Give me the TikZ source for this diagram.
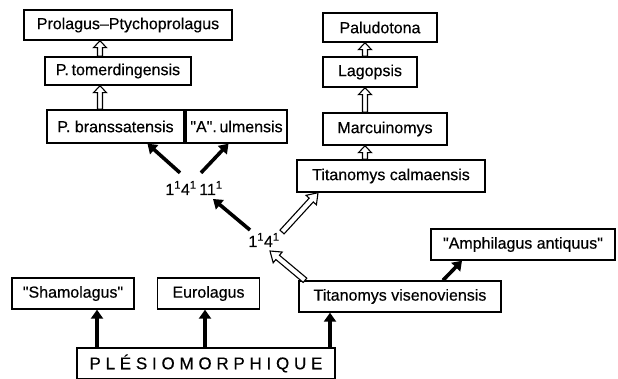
\documentclass[tikz,border=0pt]{standalone}
\usepackage{fontspec}
\setmainfont{Liberation Sans}[FakeBold=0.4]
\usetikzlibrary{calc,arrows.meta}
\tikzset{
  box/.style={draw, line width=1.4pt, inner sep=0pt, font=\fontsize{16}{18}\selectfont\addfontfeature{FakeBold=0.4}},
  lbl/.style={inner sep=0pt, font=\fontsize{16}{18}\selectfont\addfontfeature{FakeBold=0.4}},
  blackarr/.style={line width=3.6pt, -{Triangle[length=9pt,width=12pt]}},
  hollowarr/.style={draw, fill=white, line width=1.1pt, line join=miter}
}
% #1 start, #2 end, #3 shaft half width, #4 head half width, #5 head length
\newcommand{\harrow}[5]{%
  \path[hollowarr] let \p1=#1, \p2=#2, \n1={atan2(\y2-\y1,\x2-\x1)},
    \n2={\n1+90}, \n3={\n1-90}, \n4={\n1+180} in
    ($(\p1)+(\n2:#3)$) -- ($(\p2)+(\n4:#5)+(\n2:#3)$) -- ($(\p2)+(\n4:#5)+(\n2:#4)$)
    -- (\p2) -- ($(\p2)+(\n4:#5)+(\n3:#4)$) -- ($(\p2)+(\n4:#5)+(\n3:#3)$)
    -- ($(\p1)+(\n3:#3)$) -- cycle;}
\begin{document}
\begin{tikzpicture}[x=1pt,y=-1pt]
\useasboundingbox (0,0) rectangle (618,379);
% left column
\node[box, minimum width=208pt, minimum height=30pt] (prol) at (128,25) {Prolagus–Ptychoprolagus};
\node[box, minimum width=146pt, minimum height=28pt] (tom) at (118,71) {P.\,tomerdingensis};
\node[box, minimum width=137pt, minimum height=33pt] (bran) at (115.5,126.5) {P. branssatensis};
\node[box, minimum width=101pt, minimum height=33pt] (ulm) at (236.5,126.5) {\textquotedbl A\textquotedbl.\,ulmensis};
% right column
\node[box, minimum width=114pt, minimum height=29pt] (palu) at (380,27.5) {Paludotona};
\node[box, minimum width=94pt, minimum height=30pt] (lago) at (370,72) {Lagopsis};
\node[box, minimum width=124pt, minimum height=32pt] (marc) at (385,129) {Marcuinomys};
\node[box, minimum width=188pt, minimum height=32pt] (calm) at (391,176) {Titanomys calmaensis};
\node[box, minimum width=184pt, minimum height=31pt] (amph) at (523,244.5) {\textquotedbl Amphilagus antiquus\textquotedbl};
% bottom row
\node[box, minimum width=202pt, minimum height=31pt] (vis) at (400,296.5) {Titanomys visenoviensis};
\node[box, minimum width=122pt, minimum height=31pt] (sham) at (73,293.5) {\textquotedbl Shamolagus\textquotedbl};
\node[box, minimum width=102pt, minimum height=31pt] (euro) at (208.5,293.5) {Eurolagus};
\node[box, minimum width=258pt, minimum height=31pt, font=\fontsize{17}{19}\selectfont\addfontfeature{FakeBold=0.4,LetterSpace=28}] (ples) at (206,363.5) {PLÉSIOMORPHIQUE};
% labels
\node[lbl] (l1) at (194,188) {1\textsuperscript{1}4\textsuperscript{1}\,11\textsuperscript{1}};
\node[lbl] (l2) at (264,240) {1\textsuperscript{1}4\textsuperscript{1}};
% hollow vertical arrows
\harrow{([xshift=-18pt]tom.north)}{([xshift=-28pt]prol.south)}{2.5pt}{6.5pt}{7pt}
\harrow{([xshift=-15.5pt]bran.north)}{([xshift=-18pt]tom.south)}{2.5pt}{6.5pt}{7pt}
\harrow{([xshift=-5pt]lago.north)}{([xshift=-15pt]palu.south)}{2.5pt}{6.5pt}{7pt}
\harrow{([xshift=-20pt]marc.north)}{([xshift=-5pt]lago.south)}{2.5pt}{6.5pt}{7pt}
\harrow{([xshift=-26pt]calm.north)}{([xshift=-20pt]marc.south)}{2.5pt}{6.5pt}{7pt}
% hollow diagonal arrows
\harrow{([shift={(18pt,8pt)}]l2.center)}{([xshift=-73pt]calm.south)}{2.8pt}{7pt}{10pt}
\harrow{([xshift=-95pt]vis.north)}{([shift={(6pt,-11pt)}]l2.center)}{2.8pt}{7pt}{10pt}
% black arrows
\draw[blackarr] ([shift={(-14pt,8pt)}]l1.north) -- ([xshift=32pt]bran.south);
\draw[blackarr] ([shift={(7pt,8pt)}]l1.north) -- ([xshift=-8pt]ulm.south);
\draw[blackarr] ([shift={(-14pt,10pt)}]l2.center) -- ([shift={(19pt,-11pt)}]l1.center);
\draw[blackarr] ([xshift=43pt]vis.north) -- ([xshift=-61pt]amph.south);
\draw[blackarr] ([xshift=-109pt]ples.north) -- ([xshift=24pt]sham.south);
\draw[blackarr] ([xshift=-1pt]ples.north) -- ([xshift=-3.5pt]euro.south);
\draw[blackarr] ([xshift=124pt]ples.north) -- ([xshift=-70pt]vis.south);
\end{tikzpicture}
\end{document}
